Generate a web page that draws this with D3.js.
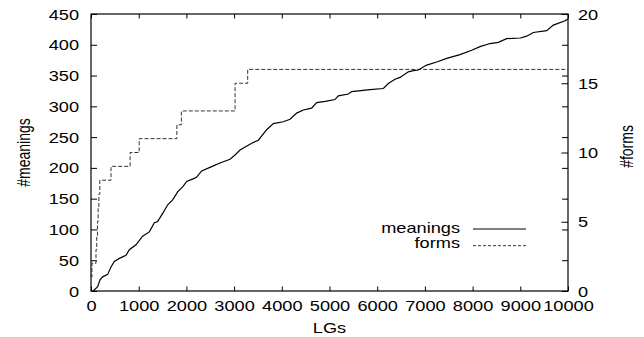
<!DOCTYPE html>
<html>
<head>
<meta charset="utf-8">
<script src="https://cdn.jsdelivr.net/npm/d3@7"></script>
<style>
  html, body { margin: 0; padding: 0; background: #fff; }
  svg { display: block; }
  text { font-family: "Liberation Sans", Arial, Helvetica, sans-serif; font-size: 14px; fill: #000; }
</style>
</head>
<body>
<svg id="chart" width="644" height="337"></svg>
<script>
// Cumulative number of distinct meanings as language games (LGs) are played
const meaningLGs = [0, 48, 140, 189, 245, 350, 419, 489, 594, 734, 804, 943, 1083, 1223, 1328, 1398, 1503, 1608, 1712, 1817, 1922, 2006, 2166, 2216, 2320, 2530, 2704, 2914, 3019, 3124, 3369, 3508, 3683, 3823, 4032, 4172, 4312, 4452, 4626, 4731, 4906, 5115, 5185, 5395, 5465, 5849, 6129, 6234, 6373, 6478, 6653, 6757, 6862, 7037, 7247, 7457, 7736, 7981, 8155, 8365, 8539, 8714, 9000, 9134, 9273, 9553, 9693, 9937, 10000];
const meaningCounts = [0, 0, 7, 18, 23, 27, 39, 48, 53, 58, 67, 75, 89, 96, 111, 113, 126, 140, 148, 161, 169, 178, 183, 185, 195, 202, 208, 214, 221, 229, 240, 245, 262, 272, 275, 279, 289, 294, 297, 306, 308, 311, 317, 320, 324, 327, 329, 337, 344, 347, 356, 358, 359, 367, 372, 378, 384, 391, 397, 402, 404, 410, 411, 414, 420, 423, 432, 439, 442];

// Number of distinct forms (right axis), drawn as a step function
const formLGs = [0, 20, 105, 120, 135, 150, 165, 185, 420, 820, 1010, 1800, 1895, 3020, 3285, 10000];
const formCounts = [1, 2, 3, 4, 5, 6, 7, 8, 9, 10, 11, 12, 13, 15, 16, 16];

const xTicks = [0, 1000, 2000, 3000, 4000, 5000, 6000, 7000, 8000, 9000, 10000];
const yTicks = [0, 50, 100, 150, 200, 250, 300, 350, 400, 450];
const y2Ticks = [0, 5, 10, 15, 20];

const seriesNames = ["meanings", "forms"];
const xTitle = "LGs", yTitle = "#meanings", y2Title = "#forms";

const plotL = 91, plotR = 568, plotT = 14, plotB = 291;
const STRETCH = 1.3; // horizontal glyph stretch

const svg = d3.select("#chart");
const x = d3.scaleLinear().domain([0, 10000]).range([plotL, plotR]);
const y = d3.scaleLinear().domain([0, 450]).range([plotB, plotT]);
const y2 = d3.scaleLinear().domain([0, 20]).range([plotB, plotT]);
const fmt = d3.format("d");

function styleAxis(g) {
  g.select(".domain").remove();
  g.selectAll(".tick line").attr("stroke", "#000").attr("stroke-width", 1);
}

// bottom axis with labels, inward ticks
const gx = svg.append("g").attr("transform", `translate(0,${plotB})`)
  .call(d3.axisBottom(x).tickValues(xTicks).tickFormat(fmt).tickSizeInner(-4.5).tickSizeOuter(0));
styleAxis(gx);
gx.selectAll(".tick text")
  .attr("x", null).attr("y", null).attr("dy", null)
  .attr("text-anchor", "middle").attr("font-size", null).attr("font-family", null)
  .attr("transform", `translate(0,19.7) scale(${STRETCH},1)`);

// top mirror ticks
const gxt = svg.append("g").attr("transform", `translate(0,${plotT})`)
  .call(d3.axisTop(x).tickValues(xTicks).tickFormat("").tickSizeInner(-4.5).tickSizeOuter(0));
styleAxis(gxt);

// left axis
const gy = svg.append("g").attr("transform", `translate(${plotL},0)`)
  .call(d3.axisLeft(y).tickValues(yTicks).tickFormat(fmt).tickSizeInner(-6).tickSizeOuter(0));
styleAxis(gy);
gy.selectAll(".tick text")
  .attr("x", null).attr("y", null).attr("dy", null)
  .attr("text-anchor", "end").attr("font-size", null).attr("font-family", null)
  .attr("transform", `translate(-12,5) scale(${STRETCH},1)`);

// right side: mirrored left ticks plus y2 axis
const gym = svg.append("g").attr("transform", `translate(${plotR},0)`)
  .call(d3.axisRight(y).tickValues(yTicks).tickFormat("").tickSizeInner(-6).tickSizeOuter(0));
styleAxis(gym);
const gy2 = svg.append("g").attr("transform", `translate(${plotR},0)`)
  .call(d3.axisRight(y2).tickValues(y2Ticks).tickFormat(fmt).tickSizeInner(-6.5).tickSizeOuter(0));
styleAxis(gy2);
gy2.selectAll(".tick text")
  .attr("x", null).attr("y", null).attr("dy", null)
  .attr("text-anchor", "start").attr("font-size", null).attr("font-family", null)
  .attr("transform", `translate(10,5) scale(${STRETCH},1)`);

// plot border
svg.append("rect")
  .attr("x", plotL).attr("y", plotT)
  .attr("width", plotR - plotL).attr("height", plotB - plotT)
  .attr("fill", "none").attr("stroke", "#000").attr("stroke-width", 1.2);

// series
const meanings = meaningLGs.map((v, i) => [v, meaningCounts[i]]);
const forms = formLGs.map((v, i) => [v, formCounts[i]]);

svg.append("path")
  .datum(forms)
  .attr("fill", "none").attr("stroke", "#333").attr("stroke-width", 1)
  .attr("stroke-dasharray", "4,2")
  .attr("d", d3.line().x(d => x(d[0])).y(d => y2(d[1])).curve(d3.curveStepAfter));

svg.append("path")
  .datum(meanings)
  .attr("fill", "none").attr("stroke", "#000").attr("stroke-width", 1.2)
  .attr("d", d3.line().x(d => x(d[0])).y(d => y(d[1])));

// axis titles
svg.append("text")
  .attr("text-anchor", "middle")
  .attr("transform", `translate(${(plotL + plotR) / 2},333) scale(${STRETCH},1)`)
  .text(xTitle);
svg.append("text")
  .attr("text-anchor", "middle")
  .attr("transform", `translate(30,${(plotT + plotB) / 2}) rotate(-90) scale(1,${STRETCH})`)
  .text(yTitle);
svg.append("text")
  .attr("text-anchor", "middle")
  .attr("transform", `translate(633,${(plotT + plotB) / 2 - 6}) rotate(-90) scale(1,${STRETCH})`)
  .text(y2Title);

// legend
const legend = svg.append("g");
const legendRows = [
  { name: seriesNames[0], ty: 233.3, ly: 229, dash: null, color: "#000" },
  { name: seriesNames[1], ty: 248.3, ly: 245.7, dash: "3,2", color: "#333" }
];
legendRows.forEach(r => {
  legend.append("text")
    .attr("text-anchor", "end")
    .attr("transform", `translate(460,${r.ty}) scale(${STRETCH},1)`)
    .text(r.name);
  legend.append("line")
    .attr("x1", 473).attr("x2", 526)
    .attr("y1", r.ly).attr("y2", r.ly)
    .attr("stroke", r.color).attr("stroke-width", 1)
    .attr("stroke-dasharray", r.dash);
});
</script>
</body>
</html>
